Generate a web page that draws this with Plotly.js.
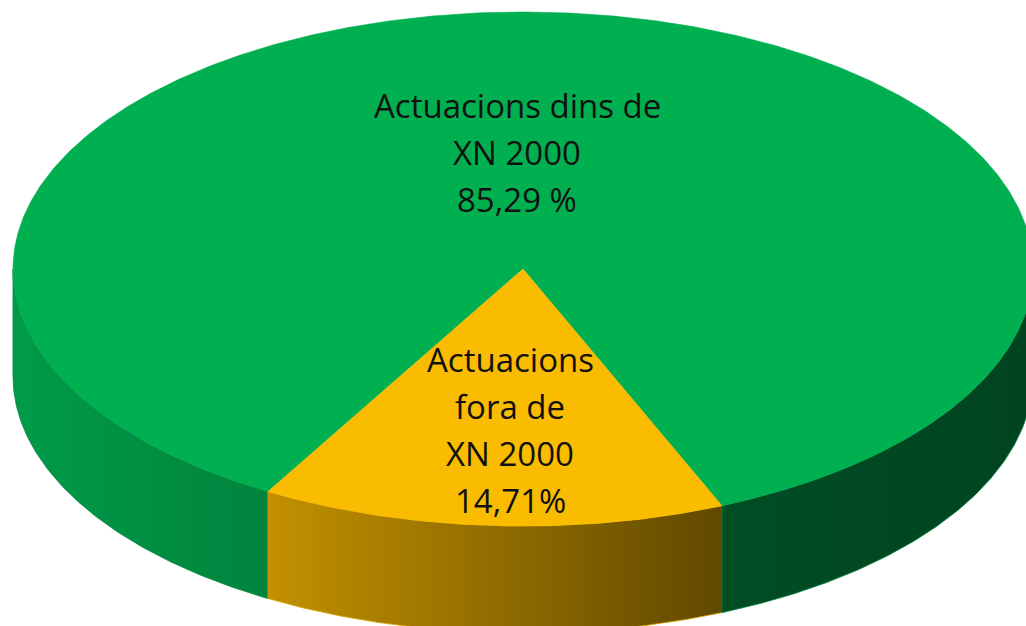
<!DOCTYPE html>
<html>
<head>
<meta charset="utf-8">
<script src="https://cdn.plot.ly/plotly-3.0.1.min.js"></script>
<style>html,body{margin:0;padding:0;background:#fff;}#chart{width:1026px;height:626px;}</style>
</head>
<body>
<div id="chart"></div>
<script>
// ---- data ----
const categories = ["Actuacions dins de XN 2000", "Actuacions fora de XN 2000"];
const values = [85.29, 14.71];
const labelLines = [
  ["Actuacions dins de", "XN 2000", "85,29 %"],
  ["Actuacions", "fora de", "XN 2000", "14,71%"]
];

// ---- geometry / style (not data) ----
const W = 1026, H = 626;
const geo = { cx: 523, cy: 269, rx: 510, ry: 257, depth: 107, startAngle: 120 };
const topColors = ["#00AF50", "#FABC00"];
const sideScales = [
  [[0, "#009B49"], [0.25, "#00843D"], [0.7, "#004D24"], [1, "#00441F"]],
  [[0, "#D4A000"], [0.25, "#C29000"], [0.7, "#5F4800"], [1, "#554000"]]
];
const labelOffsets = [[-6, -117], [-13, 161]];
const lineGap = 47;
const font = { family: "'Open Sans', 'Noto Sans', sans-serif", size: 33, color: "#111111" };

function pt(deg, dy) {
  const r = deg * Math.PI / 180;
  return [geo.cx + geo.rx * Math.cos(r), geo.cy + geo.ry * Math.sin(r) + (dy || 0)];
}
function arc(a0, a1, dy) {
  const n = Math.max(2, Math.ceil(Math.abs(a1 - a0) / 0.5));
  const xs = [], ys = [];
  for (let i = 0; i <= n; i++) {
    const p = pt(a0 + (a1 - a0) * i / n, dy);
    xs.push(p[0]); ys.push(p[1]);
  }
  return [xs, ys];
}

const total = values.reduce((a, b) => a + b, 0);
const slices = [];
let cum = 0;
values.forEach((v, i) => {
  const a0 = geo.startAngle + cum / total * 360;
  const a1 = a0 + v / total * 360;
  slices.push({ a0, a1, i });
  cum += v;
});

const traces = [];
// side walls (front half only: angles in [0,180] mod 360)
slices.forEach(s => {
  for (let k = -1; k <= 2; k++) {
    const lo = Math.max(s.a0, 360 * k), hi = Math.min(s.a1, 360 * k + 180);
    if (hi - lo <= 0.01) continue;
    const top = arc(lo, hi, 0), bot = arc(hi, lo, geo.depth);
    traces.push({
      type: "scatter", mode: "lines", hoverinfo: "skip",
      x: top[0].concat(bot[0]), y: top[1].concat(bot[1]),
      fill: "toself", line: { width: 0.8, color: s.i === 1 ? "#D9A600" : sideScales[0][1][1] },
      fillcolor: sideScales[s.i][1][1],
      fillgradient: { type: "horizontal", colorscale: sideScales[s.i], start: geo.cx - geo.rx, stop: geo.cx + geo.rx }
    });
  }
});
// top faces
slices.forEach(s => {
  const a = arc(s.a0, s.a1, 0);
  traces.push({
    type: "scatter", mode: "lines", hoverinfo: "skip", name: categories[s.i],
    x: [geo.cx].concat(a[0], [geo.cx]), y: [geo.cy].concat(a[1], [geo.cy]),
    fill: "toself", fillcolor: topColors[s.i], line: { width: 0.6, color: topColors[s.i] }
  });
});

const annotations = [];
labelLines.forEach((lines, i) => {
  const [dx, dy] = labelOffsets[i];
  const n = lines.length;
  lines.forEach((t, j) => {
    annotations.push({
      x: geo.cx + dx, y: geo.cy + dy + (j - (n - 1) / 2) * lineGap,
      xref: "x", yref: "y", text: t, showarrow: false, font: font,
      xanchor: "center", yanchor: "middle"
    });
  });
});

const layout = {
  width: W, height: H, margin: { l: 0, r: 0, t: 0, b: 0 },
  paper_bgcolor: "#ffffff", plot_bgcolor: "#ffffff", showlegend: false,
  xaxis: { range: [0, W], visible: false, fixedrange: true },
  yaxis: { range: [H, 0], visible: false, fixedrange: true },
  annotations: annotations, hovermode: false
};
Plotly.newPlot("chart", traces, layout, { staticPlot: true, displayModeBar: false });
</script>
</body>
</html>
